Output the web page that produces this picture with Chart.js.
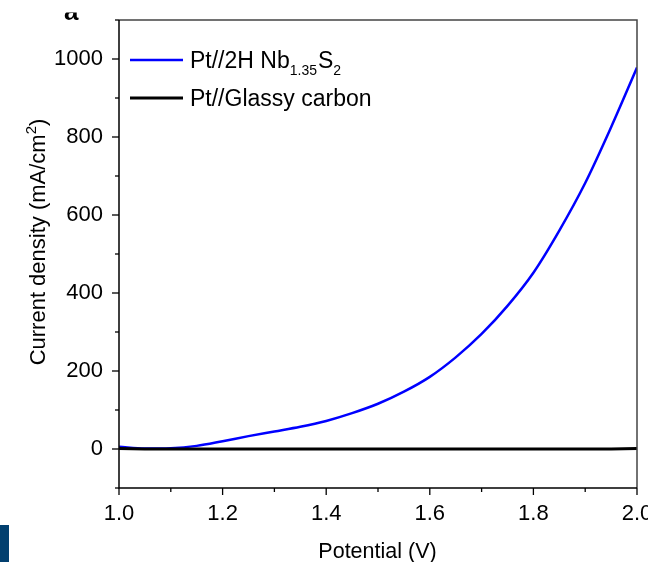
<!DOCTYPE html>
<html><head><meta charset="utf-8">
<script src="https://cdn.jsdelivr.net/npm/chart.js@4.4.1/dist/chart.umd.min.js"></script>
<style>
html,body{margin:0;padding:0;background:#fff;overflow:hidden}
#wrap{position:relative;width:648px;height:562px}
#bar{position:absolute;left:0;top:525px;width:9px;height:37px;background:#02406f}
</style>
</head><body>
<div id="wrap"><canvas id="c" width="648" height="562"></canvas><div id="bar"></div></div>
<script>
const potential = [1.00,1.05,1.10,1.15,1.20,1.25,1.30,1.35,1.40,1.45,1.50,1.55,1.60,1.65,1.70,1.75,1.80,1.85,1.90,1.95,2.00];
const nbS2Current = [6,1,2,8,20,33,45,57,72,92,116,147,185,235,295,367,452,560,682,825,978];
const glassyCarbonCurrent = [1,0,0,0,0,0,0,0,0,0,0,0,0,0,0,0,0,0,0,0,1];
const xMajorTicks = [1.0,1.2,1.4,1.6,1.8,2.0];
const xTickLabels = ['1.0','1.2','1.4','1.6','1.8','2.0'];
const yMajorTicks = [0,200,400,600,800,1000];
const yTickLabels = ['0','200','400','600','800','1000'];
const seriesNames = ['Pt//2H Nb1.35S2','Pt//Glassy carbon'];
const legendSegments = [
  [['Pt//2H Nb',0],['1.35',1],['S',0],['2',1]],
  [['Pt//Glassy carbon',0]]
];
const xTitle = 'Potential (V)';
const yTitleParts = ['Current density (mA/cm','2',')'];
const panelLetter = 'a';

const FF = "'Liberation Sans', Arial, sans-serif";
const near = (a,b)=>Math.abs(a-b)<1e-6;

const decor = {
  id:'decor',
  afterDraw(chart){
    const {ctx, chartArea:a, scales:{x,y}} = chart;
    ctx.save();
    // frame
    ctx.lineWidth = 1.5;
    ctx.strokeStyle = '#444';
    ctx.beginPath();
    ctx.moveTo(a.left, a.top); ctx.lineTo(a.right, a.top); ctx.lineTo(a.right, a.bottom);
    ctx.stroke();
    ctx.strokeStyle = '#000';
    ctx.beginPath();
    ctx.moveTo(a.left, a.top); ctx.lineTo(a.left, a.bottom); ctx.lineTo(a.right, a.bottom);
    ctx.stroke();
    // ticks
    ctx.lineWidth = 1.3;
    for (let i=0;i<=10;i++){
      const v = 1 + i*0.1;
      const px = x.getPixelForValue(v);
      const major = xMajorTicks.some(t=>near(t,v));
      ctx.beginPath(); ctx.moveTo(px, a.bottom); ctx.lineTo(px, a.bottom + (major?7:4)); ctx.stroke();
    }
    for (let v=-100; v<=1100; v+=100){
      const py = y.getPixelForValue(v);
      const major = yMajorTicks.includes(v);
      ctx.beginPath(); ctx.moveTo(a.left, py); ctx.lineTo(a.left - (major?7:4), py); ctx.stroke();
    }
    // legend
    const colors = ['#0000ff','#000000'];
    const widths = [2.5,3];
    const rows = [{ly:60, by:68},{ly:98, by:106}];
    rows.forEach((r,i)=>{
      ctx.strokeStyle = colors[i]; ctx.lineWidth = widths[i];
      ctx.beginPath(); ctx.moveTo(130, r.ly); ctx.lineTo(183, r.ly); ctx.stroke();
      let cx = 190;
      ctx.fillStyle = '#000'; ctx.textBaseline = 'alphabetic'; ctx.textAlign = 'left';
      legendSegments[i].forEach(([t,sub])=>{
        ctx.font = (sub? '14px ':'23px ') + FF;
        ctx.fillText(t, cx, r.by + (sub?7:0));
        cx += ctx.measureText(t).width + (sub?1:0);
      });
    });
    // x title
    ctx.font = '21.5px ' + FF; ctx.textAlign = 'center'; ctx.fillStyle = '#000';
    ctx.fillText(xTitle, 377.5, 558);
    // y title
    ctx.save();
    ctx.translate(37, 242); ctx.rotate(-Math.PI/2);
    const big = '22px ' + FF, small = '15px ' + FF;
    ctx.font = big; const w1 = ctx.measureText(yTitleParts[0]).width;
    const w3 = ctx.measureText(yTitleParts[2]).width;
    ctx.font = small; const w2 = ctx.measureText(yTitleParts[1]).width;
    let sx = -(w1+w2+w3)/2;
    ctx.textAlign = 'left';
    ctx.font = big; ctx.fillText(yTitleParts[0], sx, 8); sx += w1;
    ctx.font = small; ctx.fillText(yTitleParts[1], sx, -1); sx += w2;
    ctx.font = big; ctx.fillText(yTitleParts[2], sx, 8);
    ctx.restore();
    // panel letter (clipped at top)
    ctx.save();
    ctx.beginPath(); ctx.rect(0, 12.5, 120, 10); ctx.clip();
    ctx.font = 'bold 26px ' + FF; ctx.textAlign='left';
    ctx.fillText(panelLetter, 64, 19.5);
    ctx.restore();
    ctx.restore();
  }
};

new Chart(document.getElementById('c'), {
  type:'line',
  data:{
    datasets:[
      {label:seriesNames[1], data:potential.map((p,i)=>({x:p,y:glassyCarbonCurrent[i]})), borderColor:'#000', borderWidth:3, pointRadius:0, tension:0, order:0},
      {label:seriesNames[0], data:potential.map((p,i)=>({x:p,y:nbS2Current[i]})), borderColor:'#0000ff', borderWidth:2.5, pointRadius:0, cubicInterpolationMode:'monotone', order:1}
    ]
  },
  options:{
    responsive:false, animation:false, devicePixelRatio:1,
    layout:{padding:{left:0, top:20, right:11, bottom:0}},
    plugins:{legend:{display:false}, tooltip:{enabled:false}},
    scales:{
      x:{type:'linear', min:1, max:2,
        border:{display:false},
        grid:{display:false, drawTicks:true, tickLength:7},
        ticks:{stepSize:0.1, maxRotation:0, autoSkip:false, color:'#000', padding:6, font:{family:FF, size:22},
          callback:(v)=>{const k = xMajorTicks.findIndex(t=>near(t,v)); return k>=0 ? xTickLabels[k] : '';}},
        afterFit:(s)=>{s.height = 74; s.paddingLeft = 0; s.paddingRight = 0;}
      },
      y:{type:'linear', min:-100, max:1100,
        border:{display:false},
        grid:{display:false, drawTicks:true, tickLength:7},
        ticks:{stepSize:100, autoSkip:false, color:'#000', padding:9, font:{family:FF, size:22},
          callback:(v)=>{const k = yMajorTicks.indexOf(v); return k>=0 ? yTickLabels[k] : '';}},
        afterFit:(s)=>{s.width = 119; s.paddingTop = 0; s.paddingBottom = 0;}
      }
    }
  },
  plugins:[decor]
});
</script>
</body></html>
